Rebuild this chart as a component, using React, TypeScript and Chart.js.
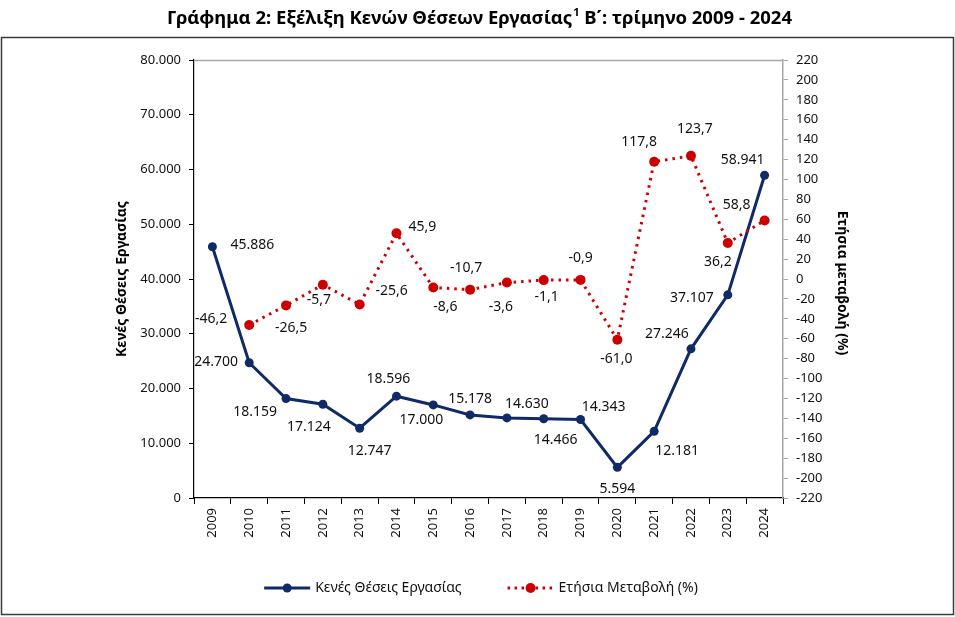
import React, { useEffect, useRef } from "react";
import { Chart, registerables } from "chart.js";

Chart.register(...registerables);

const years = ["2009","2010","2011","2012","2013","2014","2015","2016","2017","2018","2019","2020","2021","2022","2023","2024"];
const vacancies = [45886, 24700, 18159, 17124, 12747, 18596, 17000, 15178, 14630, 14466, 14343, 5594, 12181, 27246, 37107, 58941];
const annualChange: (number | null)[] = [null, -46.2, -26.5, -5.7, -25.6, 45.9, -8.6, -10.7, -3.6, -1.1, -0.9, -61.0, 117.8, 123.7, 36.2, 58.8];

const leftMax = 80000;
const leftStep = 10000;
const rightMin = -220;
const rightMax = 220;
const rightStep = 20;

const titleMain = "Γράφημα 2: Εξέλιξη Κενών Θέσεων Εργασίας";
const titleSup = "1";
const titleRest = " Β΄: τρίμηνο 2009 - 2024";
const leftAxisTitle = "Κενές Θέσεις Εργασίας";
const rightAxisTitle = "Ετήσια μεταβολή (%)";
const seriesNames = ["Κενές Θέσεις Εργασίας", "Ετήσια Μεταβολή (%)"];

// label placement (pixel offsets from the point, as placed in the original)
const vacLabelOffsets: [number, number][] = [[40,-2],[-33,-1],[-31,13],[-14,23],[10,23],[-8,-17],[-12,15],[0,-16],[20,-14],[12,21],[23,-12],[0,22],[23,20],[-24,-15],[-36,3],[-22,-15]];
const chgLabelOffsets: ([number, number] | null)[] = [null,[-38,-6],[5,23],[-4,15],[32,-13],[26,-6],[12,19],[-4,-22],[-6,24],[3,17],[0,-22],[-1,19],[-15,-20],[4,-27],[-10,19],[-28,-15]];

const NAVY = "#102A68";
const RED = "#CC0000";
const FONT = "'Noto Sans', sans-serif";

const fmtThousands = (v: number) => {
  const s = Math.round(Math.abs(v)).toString().replace(/\B(?=(\d{3})+(?!\d))/g, ".");
  return (v < 0 ? "-" : "") + s;
};
const fmtPct = (v: number) => v.toFixed(1).replace(".", ",");

const decor = {
  id: "decor",
  beforeDraw(chart: any) {
    const ctx = chart.ctx;
    ctx.save();
    ctx.fillStyle = "#ffffff";
    ctx.fillRect(0, 0, chart.width, chart.height);
    ctx.restore();
  },
  afterDraw(chart: any) {
    const ctx: CanvasRenderingContext2D = chart.ctx;
    const { left, right, top, bottom } = chart.chartArea;
    ctx.save();

    // plot area top border
    ctx.strokeStyle = "#A6A6A6";
    ctx.lineWidth = 1.5;
    ctx.beginPath();
    ctx.moveTo(left, top + 0.5);
    ctx.lineTo(right, top + 0.5);
    ctx.stroke();

    // outer frame
    ctx.strokeStyle = "#3C3C3C";
    ctx.lineWidth = 1.5;
    ctx.strokeRect(1.5, 37.5, 952, 577);

    // title
    const tSize = 18.5;
    ctx.fillStyle = "#000";
    ctx.textBaseline = "alphabetic";
    ctx.textAlign = "left";
    ctx.font = `bold ${tSize}px ${FONT}`;
    const w1 = ctx.measureText(titleMain).width;
    const w3 = ctx.measureText(titleRest).width;
    ctx.font = `bold ${tSize * 0.6}px ${FONT}`;
    const w2 = ctx.measureText(titleSup).width;
    const total = w1 + w2 + w3;
    let tx = 479 - total / 2;
    const ty = 24;
    ctx.font = `bold ${tSize}px ${FONT}`;
    ctx.fillText(titleMain, tx, ty);
    tx += w1;
    ctx.font = `bold ${tSize * 0.6}px ${FONT}`;
    ctx.fillText(titleSup, tx + 1, ty - 8);
    tx += w2 + 1;
    ctx.font = `bold ${tSize}px ${FONT}`;
    ctx.fillText(titleRest, tx, ty);

    // axis titles
    ctx.font = `bold 14px ${FONT}`;
    ctx.textAlign = "center";
    ctx.textBaseline = "middle";
    ctx.save();
    ctx.translate(122, (top + bottom) / 2);
    ctx.rotate(-Math.PI / 2);
    ctx.fillText(leftAxisTitle, 0, 0);
    ctx.restore();
    ctx.save();
    ctx.translate(842, 283);
    ctx.rotate(Math.PI / 2);
    ctx.fillText(rightAxisTitle, 0, 0);
    ctx.restore();

    // data labels
    ctx.font = `14px ${FONT}`;
    ctx.fillStyle = "#111";
    ctx.textAlign = "center";
    ctx.textBaseline = "middle";
    const m0 = chart.getDatasetMeta(0);
    m0.data.forEach((pt: any, i: number) => {
      const off = vacLabelOffsets[i];
      ctx.fillText(fmtThousands(vacancies[i]), pt.x + off[0], pt.y + off[1]);
    });
    const m1 = chart.getDatasetMeta(1);
    m1.data.forEach((pt: any, i: number) => {
      const v = annualChange[i];
      const off = chgLabelOffsets[i];
      if (v === null || !off) return;
      ctx.fillText(fmtPct(v), pt.x + off[0], pt.y + off[1]);
    });

    // legend
    const ly = 588;
    ctx.font = `14px ${FONT}`;
    const tw1 = ctx.measureText(seriesNames[0]).width;
    const tw2 = ctx.measureText(seriesNames[1]).width;
    const sym = 46;
    const gapTxt = 5;
    const gapItems = 46;
    const totalL = sym + gapTxt + tw1 + gapItems + sym + gapTxt + tw2;
    let lx = 481 - totalL / 2;
    ctx.textAlign = "left";
    ctx.textBaseline = "middle";
    // item 1
    ctx.strokeStyle = NAVY;
    ctx.lineWidth = 3;
    ctx.setLineDash([]);
    ctx.beginPath();
    ctx.moveTo(lx, ly);
    ctx.lineTo(lx + sym, ly);
    ctx.stroke();
    ctx.fillStyle = NAVY;
    ctx.beginPath();
    ctx.arc(lx + sym / 2, ly, 4.5, 0, Math.PI * 2);
    ctx.fill();
    ctx.fillStyle = "#111";
    ctx.fillText(seriesNames[0], lx + sym + gapTxt, ly);
    lx += sym + gapTxt + tw1 + gapItems;
    // item 2
    ctx.strokeStyle = RED;
    ctx.lineWidth = 3;
    ctx.setLineDash([2.5, 4.5]);
    ctx.beginPath();
    ctx.moveTo(lx, ly);
    ctx.lineTo(lx + sym, ly);
    ctx.stroke();
    ctx.setLineDash([]);
    ctx.fillStyle = RED;
    ctx.beginPath();
    ctx.arc(lx + sym / 2, ly, 5, 0, Math.PI * 2);
    ctx.fill();
    ctx.fillStyle = "#111";
    ctx.fillText(seriesNames[1], lx + sym + gapTxt, ly);

    ctx.restore();
  },
};

export default function App() {
  const canvasRef = useRef<HTMLCanvasElement | null>(null);

  useEffect(() => {
    if (!canvasRef.current) return;
    const chart = new Chart(canvasRef.current, {
      type: "line",
      data: {
        labels: years,
        datasets: [
          {
            label: seriesNames[0],
            data: vacancies,
            yAxisID: "y",
            borderColor: NAVY,
            backgroundColor: NAVY,
            borderWidth: 3,
            pointRadius: 4.5,
            pointBorderWidth: 0,
            pointBackgroundColor: NAVY,
            pointBorderColor: NAVY,
            tension: 0,
            order: 1,
          },
          {
            label: seriesNames[1],
            data: annualChange,
            yAxisID: "y1",
            borderColor: RED,
            backgroundColor: RED,
            borderWidth: 3,
            borderDash: [2.5, 5],
            pointRadius: 5,
            pointBorderWidth: 0,
            pointBackgroundColor: RED,
            pointBorderColor: RED,
            tension: 0,
            spanGaps: false,
            order: 0,
          },
        ],
      },
      options: {
        responsive: false,
        animation: false,
        devicePixelRatio: 1,
        layout: { padding: { left: 0, right: 0, top: 60, bottom: 59 } },
        plugins: {
          legend: { display: false },
          title: { display: false },
          tooltip: { enabled: false },
        },
        scales: {
          x: {
            type: "category",
            offset: true,
            afterFit: (s: any) => { s.height = 60; },
            grid: {
              display: true,
              offset: true,
              drawOnChartArea: false,
              drawTicks: true,
              tickLength: 6,
              color: "#000",
            },
            border: { display: true, color: "#000", width: 1.2 },
            ticks: {
              minRotation: 90,
              maxRotation: 90,
              autoSkip: false,
              padding: 4,
              color: "#111",
              font: { family: FONT, size: 13 },
            },
          },
          y: {
            type: "linear",
            position: "left",
            min: 0,
            max: leftMax,
            afterFit: (s: any) => { s.width = 194; },
            grid: { display: true, drawOnChartArea: false, tickLength: 5, color: "#000" },
            border: { display: true, color: "#000", width: 1.2 },
            ticks: {
              stepSize: leftStep,
              padding: 8,
              color: "#111",
              font: { family: FONT, size: 13 },
              callback: (v: any) => fmtThousands(Number(v)),
            },
          },
          y1: {
            type: "linear",
            position: "right",
            min: rightMin,
            max: rightMax,
            afterFit: (s: any) => { s.width = 955 - 783; },
            grid: { display: true, drawOnChartArea: false, tickLength: 5, color: "#A6A6A6" },
            border: { display: true, color: "#A6A6A6", width: 1.5 },
            ticks: {
              stepSize: rightStep,
              padding: 8,
              color: "#111",
              font: { family: FONT, size: 13 },
              callback: (v: any) => String(v),
            },
          },
        },
      },
      plugins: [decor],
    } as any);
    return () => chart.destroy();
  }, []);

  return (
    <div style={{ position: "absolute", left: 0, top: 0, width: 955, height: 617, background: "#fff" }}>
      <canvas ref={canvasRef} width={955} height={617} style={{ display: "block", width: 955, height: 617 }} />
    </div>
  );
}
